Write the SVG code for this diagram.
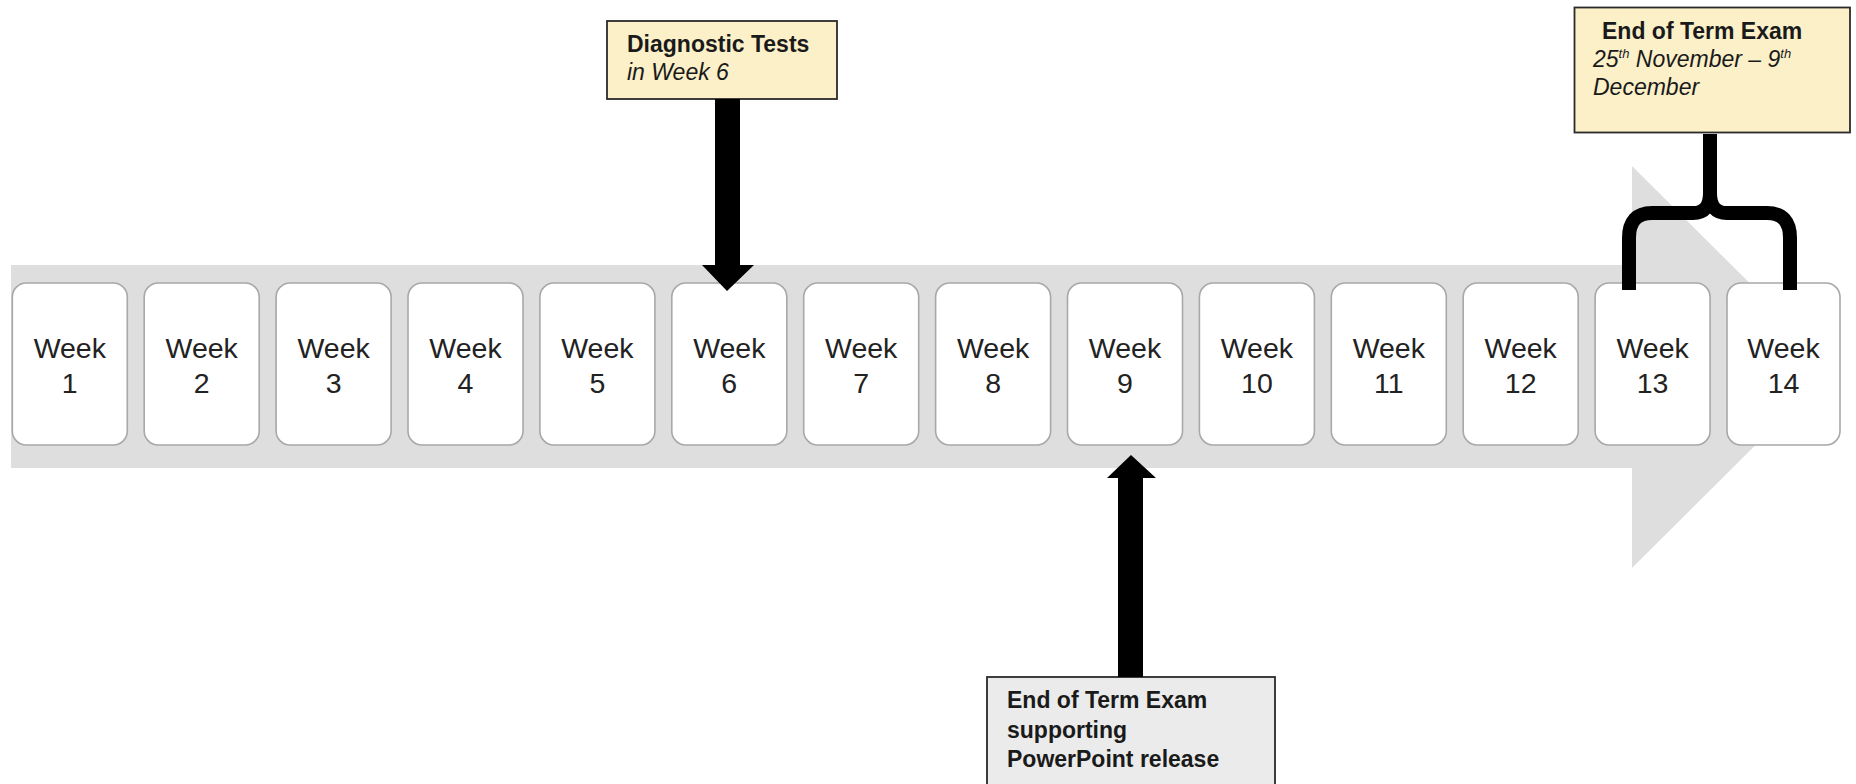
<svg xmlns="http://www.w3.org/2000/svg" width="1856" height="784" viewBox="0 0 1856 784">
<defs>
<style>
.week rect{fill:#ffffff;stroke:#a8a8a8;stroke-width:1.6}
.week text{font-family:"Liberation Sans",Arial,sans-serif;font-size:28.5px;fill:#222;text-anchor:middle}
.note{stroke:#2a2a2a;stroke-width:1.8}
.yel{fill:#fcf0c9}
.gry{fill:#ebebeb}
.bt{font-family:"Liberation Sans",Arial,sans-serif;font-size:23px;font-weight:bold;fill:#1a1a1a}
.it{font-family:"Liberation Sans",Arial,sans-serif;font-size:23px;font-style:italic;fill:#1a1a1a}
.sup{font-size:13px}
</style>
</defs>
<rect width="1856" height="784" fill="#ffffff"/>
<g id="timeline-arrow">
<path d="M11,265 H1632 V166 L1834,367 L1632,568 V468 H11 Z" fill="#dedede"/>
</g>
<g id="week1" class="week"><rect x="12.3" y="283" width="115" height="162" rx="14"/><text x="69.8" y="358">Week</text><text x="69.8" y="393">1</text></g>
<g id="week2" class="week"><rect x="144.2" y="283" width="115" height="162" rx="14"/><text x="201.7" y="358">Week</text><text x="201.7" y="393">2</text></g>
<g id="week3" class="week"><rect x="276.1" y="283" width="115" height="162" rx="14"/><text x="333.6" y="358">Week</text><text x="333.6" y="393">3</text></g>
<g id="week4" class="week"><rect x="408" y="283" width="115" height="162" rx="14"/><text x="465.5" y="358">Week</text><text x="465.5" y="393">4</text></g>
<g id="week5" class="week"><rect x="539.9" y="283" width="115" height="162" rx="14"/><text x="597.4" y="358">Week</text><text x="597.4" y="393">5</text></g>
<g id="week6" class="week"><rect x="671.8" y="283" width="115" height="162" rx="14"/><text x="729.3" y="358">Week</text><text x="729.3" y="393">6</text></g>
<g id="week7" class="week"><rect x="803.7" y="283" width="115" height="162" rx="14"/><text x="861.2" y="358">Week</text><text x="861.2" y="393">7</text></g>
<g id="week8" class="week"><rect x="935.6" y="283" width="115" height="162" rx="14"/><text x="993.1" y="358">Week</text><text x="993.1" y="393">8</text></g>
<g id="week9" class="week"><rect x="1067.5" y="283" width="115" height="162" rx="14"/><text x="1125" y="358">Week</text><text x="1125" y="393">9</text></g>
<g id="week10" class="week"><rect x="1199.4" y="283" width="115" height="162" rx="14"/><text x="1256.9" y="358">Week</text><text x="1256.9" y="393">10</text></g>
<g id="week11" class="week"><rect x="1331.3" y="283" width="115" height="162" rx="14"/><text x="1388.8" y="358">Week</text><text x="1388.8" y="393">11</text></g>
<g id="week12" class="week"><rect x="1463.2" y="283" width="115" height="162" rx="14"/><text x="1520.7" y="358">Week</text><text x="1520.7" y="393">12</text></g>
<g id="week13" class="week"><rect x="1595.1" y="283" width="115" height="162" rx="14"/><text x="1652.6" y="358">Week</text><text x="1652.6" y="393">13</text></g>
<g id="week14" class="week"><rect x="1727" y="283" width="113" height="162" rx="14"/><text x="1783.5" y="358">Week</text><text x="1783.5" y="393">14</text></g>
<g id="diagnostic-note">
<rect class="note yel" x="607" y="21" width="230" height="78"/>
<text class="bt" x="627" y="52">Diagnostic Tests</text>
<text class="it" x="627" y="80">in Week 6</text>
</g>
<g id="exam-note">
<rect class="note yel" x="1574.5" y="7.5" width="275.5" height="125"/>
<text class="bt" x="1602" y="39">End of Term Exam</text>
<text class="it" x="1593" y="67">25<tspan class="sup" dy="-9">th</tspan><tspan dy="9"> November – 9</tspan><tspan class="sup" dy="-9">th</tspan></text>
<text class="it" x="1593" y="95">December</text>
</g>
<g id="powerpoint-note">
<rect class="note gry" x="987" y="677" width="288" height="115"/>
<text class="bt" x="1007" y="708">End of Term Exam</text>
<text class="bt" x="1007" y="738">supporting</text>
<text class="bt" x="1007" y="767">PowerPoint release</text>
</g>
<g id="connectors" fill="#000000">
<path d="M715,99 H740 V265 H754 L727,291 L702,265 H715 Z"/>
<path d="M1118,677 V478 H1107 L1131,455 L1156,478 H1143 V677 Z"/>
<path d="M1629,290 V238 Q1629,213 1652,213 H1693 Q1710,213 1710,193 V134 M1710,193 Q1710,213 1727,213 H1767 Q1790,213 1790,238 V290" fill="none" stroke="#000000" stroke-width="14"/>
</g>
</svg>
